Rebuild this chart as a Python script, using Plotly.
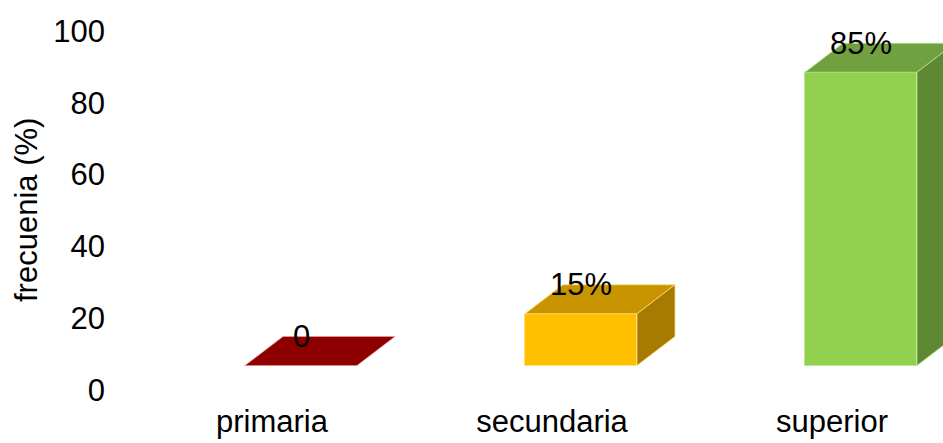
import plotly.graph_objects as go

# ---------------- data ----------------
categories = ["primaria", "secundaria", "superior"]
values = [0, 15, 85]
value_labels = ["0", "15%", "85%"]
y_tick_values = [0, 20, 40, 60, 80, 100]
y_title = "frecuenia (%)"

# ---------------- style ----------------
front_colors = ["#C00000", "#FFC000", "#92D050"]
top_colors = ["#8E0000", "#C89500", "#70A040"]
side_colors = ["#6E0000", "#A67B00", "#5F8833"]
edge_colors = ["rgba(230,150,150,0.8)", "rgba(255,220,120,0.8)", "rgba(180,230,140,0.8)"]

W, H = 943, 443
L, R, T, B = 110, 0, 5, 45
FONT = dict(family="Liberation Sans, Arial, sans-serif", size=31, color="#000000")

PX_PER_CAT = 280.0       # horizontal spacing of categories (px)
FIRST_CAT_PX = 301.0     # pixel x of first category centre
BAR_W = 0.4              # bar width in category units
DX = 38.0 / PX_PER_CAT   # 3D depth offset (x units)
LABEL_SHIFT = -29.0 / PX_PER_CAT

# visible value axis: 0 -> 390px, 20 units -> 71.8px
AX0_PX, AX_PX_PER_UNIT = 390.0, 3.59
# projected bar axis (3D floor / perspective)
BAR0_PX, BAR_PX_PER_UNIT = 365.5, 3.45
DY = 29.0 / BAR_PX_PER_UNIT

plot_top, plot_bot = T, H - B
plot_left, plot_right = L, W - R

x_range = [-(FIRST_CAT_PX - plot_left) / PX_PER_CAT, (plot_right - FIRST_CAT_PX) / PX_PER_CAT]
y_range = [-(plot_bot - AX0_PX) / AX_PX_PER_UNIT, (AX0_PX - plot_top) / AX_PX_PER_UNIT]
y2_range = [-(plot_bot - BAR0_PX) / BAR_PX_PER_UNIT, (BAR0_PX - plot_top) / BAR_PX_PER_UNIT]

xs = list(range(len(categories)))

fig = go.Figure()

# empty trace so the visible value axis (y) is drawn
fig.add_trace(go.Scatter(x=[], y=[], mode="markers", showlegend=False, hoverinfo="skip"))

# front faces
fig.add_trace(go.Bar(
    x=xs, y=values, base=0, width=BAR_W, yaxis="y2",
    marker=dict(color=front_colors, line=dict(color=edge_colors, width=1)),
    hoverinfo="skip", showlegend=False,
))

# top and side faces
for i, v in enumerate(values):
    x0, x1 = i - BAR_W / 2, i + BAR_W / 2
    fig.add_trace(go.Scatter(
        x=[x0, x1, x1 + DX, x0 + DX, x0],
        y=[v, v, v + DY, v + DY, v],
        fill="toself", fillcolor=top_colors[i], mode="lines",
        line=dict(color=edge_colors[i], width=1), yaxis="y2",
        hoverinfo="skip", showlegend=False,
    ))
    if v > 0:
        fig.add_trace(go.Scatter(
            x=[x1, x1 + DX, x1 + DX, x1, x1],
            y=[0, DY, v + DY, v, 0],
            fill="toself", fillcolor=side_colors[i], mode="lines",
            line=dict(color=edge_colors[i], width=1), yaxis="y2",
            hoverinfo="skip", showlegend=False,
        ))

annotations = []
for i, (v, t) in enumerate(zip(values, value_labels)):
    annotations.append(dict(
        x=i, y=v + DY, xref="x", yref="y2", text=t, showarrow=False,
        xanchor="center", yanchor="middle", font=FONT,
    ))
annotations.append(dict(
    x=(27 - plot_left) / (plot_right - plot_left),
    y=(plot_bot - 210) / (plot_bot - plot_top),
    xref="paper", yref="paper", text=y_title, textangle=-90,
    showarrow=False, xanchor="center", yanchor="middle", font=FONT,
))

fig.update_layout(
    width=W, height=H,
    margin=dict(l=L, r=R, t=T, b=B, pad=0),
    paper_bgcolor="white", plot_bgcolor="white",
    font=FONT,
    xaxis=dict(
        range=x_range, tickmode="array",
        tickvals=[i + LABEL_SHIFT for i in xs], ticktext=categories,
        showgrid=False, zeroline=False, showline=False, ticks="",
        tickfont=FONT, fixedrange=True, ticklabelstandoff=2,
    ),
    yaxis=dict(
        range=y_range, tickmode="array", tickvals=y_tick_values,
        showgrid=False, zeroline=False, showline=False, ticks="",
        tickfont=FONT, fixedrange=True, visible=True, ticklabelstandoff=4,
    ),
    yaxis2=dict(
        range=y2_range, overlaying="y", visible=False, fixedrange=True,
    ),
    annotations=annotations,
    bargap=0,
)

fig.write_html("out.html")
